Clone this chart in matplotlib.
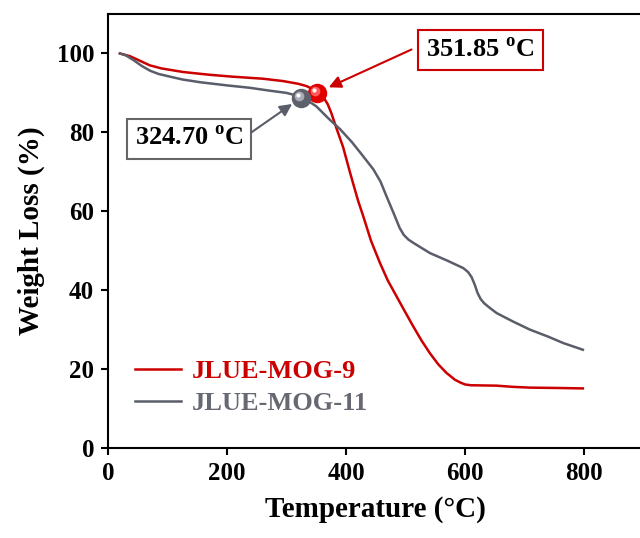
import matplotlib
matplotlib.use("Agg")
import matplotlib.pyplot as plt
from matplotlib.lines import Line2D
from matplotlib.transforms import offset_copy

# TGA curves (temperature in °C, remaining weight in %)
temp_mog9 = [20, 37, 50, 70, 90, 126, 170, 210, 260, 294, 320, 334, 345, 352,
             358, 364, 369, 375, 384, 395, 406, 412, 420, 429, 442, 457, 470, 485,
             500, 513, 527, 541, 555, 569, 583, 592, 600, 610, 653, 680, 709, 760, 798]
weight_mog9 = [100, 99.3, 98.4, 97.0, 96.2, 95.3, 94.6, 94.1, 93.6, 93.0, 92.3,
               91.7, 90.9, 90.1, 89.3, 88.4, 87.2, 85.0, 81.0, 76.3, 70.2, 67.0,
               62.8, 58.7, 52.5, 46.9, 42.5, 38.4, 34.3, 30.8, 27.2, 24.0, 21.2,
               19.0, 17.3, 16.6, 16.1, 15.9, 15.8, 15.5, 15.3, 15.2, 15.1]

temp_mog11 = [20, 30, 43, 57, 71, 85, 99, 125, 155, 200, 238, 270, 300, 315, 325,
              335, 350, 372, 390, 410, 429, 446, 458, 468, 480, 490, 497, 505, 513,
              541, 570, 597, 605, 611, 616, 621, 626, 632, 640, 653, 680, 709, 740,
              765, 798]
weight_mog11 = [100, 99.5, 98.3, 96.8, 95.6, 94.8, 94.3, 93.4, 92.7, 91.9, 91.3,
                90.6, 90.0, 89.4, 88.8, 88.1, 86.6, 83.3, 80.8, 77.5, 73.9, 70.6,
                67.5, 63.8, 59.5, 55.8, 54.0, 52.8, 52.0, 49.4, 47.5, 45.6, 44.6,
                43.3, 41.5, 39.3, 37.8, 36.7, 35.7, 34.2, 32.1, 30.0, 28.2, 26.6,
                24.9]

labels = ["JLUE-MOG-9", "JLUE-MOG-11"]
onset_temp = [351.85, 324.70]
onset_weight = [90.1, 88.8]

red = "#CC0000"
grey = "#5A5D6A"

plt.rcParams["font.family"] = "Liberation Serif"
plt.rcParams["font.weight"] = "bold"
plt.rcParams["mathtext.fontset"] = "custom"
plt.rcParams["mathtext.rm"] = "Liberation Serif:bold"

fig = plt.figure(figsize=(6.4, 5.38), dpi=100)
ax = fig.add_axes([0.16875, 0.1673, 1.0056 - 0.16875, 0.974 - 0.1673])

ax.plot(temp_mog9, weight_mog9, color=red, lw=1.8, zorder=3)
ax.plot(temp_mog11, weight_mog11, color=grey, lw=1.8, zorder=3)

ax.set_xlim(0, 900)
ax.set_ylim(0, 110)
ax.set_xticks([0, 200, 400, 600, 800])
ax.set_yticks([0, 20, 40, 60, 80, 100])

for s in ["left", "bottom", "top"]:
    ax.spines[s].set_linewidth(1.5)
ax.spines["right"].set_visible(False)
ax.tick_params(direction="out", length=5, width=1.5, pad=5, labelsize=18)
for lab in ax.get_xticklabels() + ax.get_yticklabels():
    lab.set_fontweight("bold")

ax.set_xlabel("Temperature (°C)", fontsize=21, fontweight="bold", labelpad=8)
ax.set_ylabel("Weight Loss (%)", fontsize=21, fontweight="bold", labelpad=8)

# onset points drawn as shaded balls
for t, w, base, mid in [(onset_temp[0], onset_weight[0], "#E00000", "#FF5A5A"),
                        (onset_temp[1], onset_weight[1], "#5E616C", "#A9ACB5")]:
    ax.plot(t, w, "o", ms=13, color=base, mec=base, zorder=5)
    tr1 = offset_copy(ax.transData, fig=fig, x=-2, y=2, units="dots")
    ax.plot(t, w, "o", ms=7, color=mid, mec="none", transform=tr1, zorder=6)
    tr2 = offset_copy(ax.transData, fig=fig, x=-3, y=3, units="dots")
    ax.plot(t, w, "o", ms=3, color="white", mec="none", transform=tr2, zorder=7)

# annotation boxes and arrows
ax.text(626, 100.8, r"351.85 $^{\mathrm{o}}$C", fontsize=19, fontweight="bold",
        ha="center", va="center", zorder=8,
        bbox=dict(boxstyle="square,pad=0.3", fc="white", ec=red, lw=1.5))
ax.annotate("", xy=(onset_temp[0], onset_weight[0]), xytext=(510, 101),
            arrowprops=dict(arrowstyle="-|>", color=red, lw=1.5,
                            shrinkA=0, shrinkB=9, mutation_scale=18), zorder=8)

ax.text(136, 78.4, r"324.70 $^{\mathrm{o}}$C", fontsize=19, fontweight="bold",
        ha="center", va="center", zorder=8,
        bbox=dict(boxstyle="square,pad=0.3", fc="white", ec="#666666", lw=1.5))
ax.annotate("", xy=(onset_temp[1], onset_weight[1]), xytext=(241, 80.0),
            arrowprops=dict(arrowstyle="-|>", color=grey, lw=1.5,
                            shrinkA=0, shrinkB=8, mutation_scale=18), zorder=8)

handles = [Line2D([], [], color=red, lw=1.8), Line2D([], [], color=grey, lw=1.8)]
leg = ax.legend(handles, labels, loc="upper left", bbox_to_anchor=(0.05, 0.204),
                frameon=False, fontsize=19, handlelength=1.77, handletextpad=0.38,
                labelspacing=0.34, borderpad=0, borderaxespad=0)
for txt, c in zip(leg.get_texts(), [red, "#666872"]):
    txt.set_color(c)
    txt.set_fontweight("bold")

fig.savefig("out.png", dpi=100)
